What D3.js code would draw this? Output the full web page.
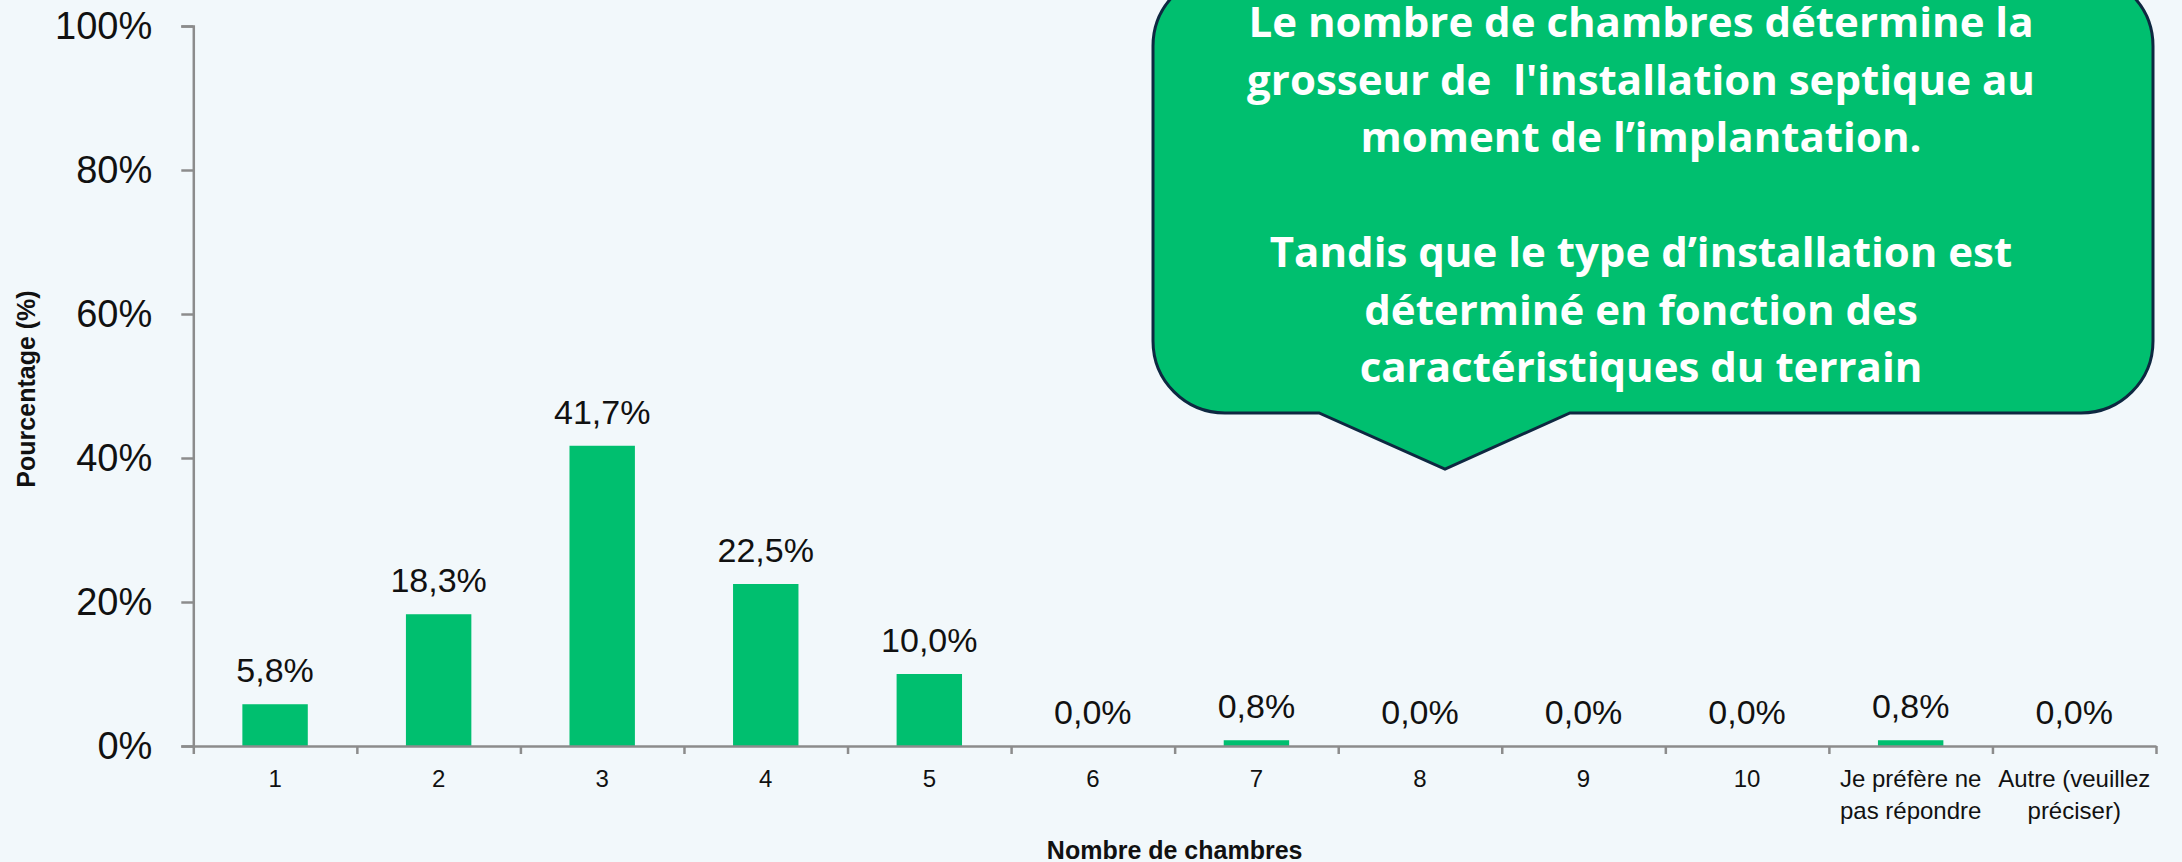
<!DOCTYPE html>
<html>
<head>
<meta charset="utf-8">
<script src="https://cdn.jsdelivr.net/npm/d3@7"></script>
<style>
  html, body { margin: 0; padding: 0; background: #f2f8fb; }
  svg { display: block; }
</style>
</head>
<body>
<div id="chart"></div>
<script>
// chart values
var categories = ["1", "2", "3", "4", "5", "6", "7", "8", "9", "10", "pref", "autre"];
var catLabels = [["1"], ["2"], ["3"], ["4"], ["5"], ["6"], ["7"], ["8"], ["9"], ["10"],
                 ["Je préfère ne", "pas répondre"], ["Autre (veuillez", "préciser)"]];
var values = [5.8, 18.3, 41.7, 22.5, 10.0, 0.0, 0.8, 0.0, 0.0, 0.0, 0.8, 0.0];
var yTickValues = [0, 20, 40, 60, 80, 100];
var calloutLines = [
  "Le nombre de chambres détermine la",
  "grosseur de  l'installation septique au",
  "moment de l’implantation.",
  "",
  "Tandis que le type d’installation est",
  "déterminé en fonction des",
  "caractéristiques du terrain"
];

var width = 2182;
var height = 862;
var plotLeft = 193.3, plotRight = 2156;
var plotTop = 26, plotBottom = 746;
var axisColor = "#8c8c8c";
var green = "#00bf6f";
var textColor = "#111";

var svg = d3.select("#chart")
  .append("svg")
    .attr("width", width)
    .attr("height", height)
    .style("background", "#f2f8fb");

var x = d3.scaleBand()
  .domain(categories)
  .range([plotLeft, plotRight])
  .paddingInner(0.6)
  .paddingOuter(0.3);

// boundaries between categories, for the tick marks
var xEdges = d3.scaleLinear()
  .domain([0, categories.length])
  .range([plotLeft, plotRight]);

var y = d3.scaleLinear()
  .domain([0, 100])
  .range([plotBottom, plotTop]);

// bars
svg.append("g").selectAll("rect")
  .data(values)
  .enter().append("rect")
    .attr("x", function(d, i) { return x(categories[i]); })
    .attr("width", x.bandwidth())
    .attr("y", function(d) { return y(d); })
    .attr("height", function(d) { return y(0) - y(d); })
    .attr("fill", green);

// y axis
var yAxis = svg.append("g")
  .attr("transform", "translate(" + plotLeft + ",0)")
  .call(d3.axisLeft(y).tickValues(yTickValues).tickSize(12).tickPadding(29)
    .tickFormat(function(d) { return d + "%"; }));
yAxis.select(".domain").attr("stroke", axisColor).attr("stroke-width", 2.5);
yAxis.selectAll(".tick line").attr("stroke", axisColor).attr("stroke-width", 2.5);
yAxis.selectAll(".tick text")
  .attr("font-family", "Liberation Sans, Arial, sans-serif")
  .attr("font-size", 38)
  .attr("fill", textColor);

// x axis
var xAxis = svg.append("g")
  .attr("transform", "translate(0," + plotBottom + ")")
  .call(d3.axisBottom(xEdges).tickValues(d3.range(categories.length + 1)).tickSize(8)
    .tickSizeOuter(0).tickFormat(""));
xAxis.select(".domain").attr("stroke", axisColor).attr("stroke-width", 2.5);
xAxis.selectAll(".tick line").attr("stroke", axisColor).attr("stroke-width", 2.5);

// category labels
var catG = svg.append("g")
  .attr("font-family", "Liberation Sans, Arial, sans-serif")
  .attr("font-size", 24)
  .attr("fill", textColor)
  .attr("text-anchor", "middle");
catLabels.forEach(function(lines, i) {
  var cx = x(categories[i]) + x.bandwidth() / 2;
  var t = catG.append("text")
    .attr("x", cx)
    .attr("y", 787);
  lines.forEach(function(l, j) {
    t.append("tspan")
      .attr("x", cx)
      .attr("dy", j === 0 ? 0 : 31.7)
      .text(l);
  });
});

// value labels
svg.append("g").selectAll("text")
  .data(values)
  .enter().append("text")
    .attr("x", function(d, i) { return x(categories[i]) + x.bandwidth() / 2; })
    .attr("y", function(d) { return y(d) - 22; })
    .attr("text-anchor", "middle")
    .attr("font-family", "Liberation Sans, Arial, sans-serif")
    .attr("font-size", 34)
    .attr("fill", textColor)
    .text(function(d) { return d.toFixed(1).replace(".", ",") + "%"; });

// axis titles
svg.append("text")
  .attr("x", (plotLeft + plotRight) / 2)
  .attr("y", 859)
  .attr("text-anchor", "middle")
  .attr("font-family", "Liberation Sans, Arial, sans-serif")
  .attr("font-weight", "bold")
  .attr("font-size", 25)
  .attr("fill", textColor)
  .text("Nombre de chambres");

svg.append("text")
  .attr("transform", "translate(35," + ((plotTop + plotBottom) / 2 + 3) + ") rotate(-90)")
  .attr("text-anchor", "middle")
  .attr("font-family", "Liberation Sans, Arial, sans-serif")
  .attr("font-weight", "bold")
  .attr("font-size", 25)
  .attr("fill", textColor)
  .text("Pourcentage (%)");

// callout bubble
var bx0 = 1153, bx1 = 2153, by0 = -26, by1 = 413, r = 72;
var p = d3.path();
p.moveTo(bx0 + r, by0);
p.lineTo(bx1 - r, by0);
p.arcTo(bx1, by0, bx1, by0 + r, r);
p.lineTo(bx1, by1 - r);
p.arcTo(bx1, by1, bx1 - r, by1, r);
p.lineTo(1570, by1);
p.lineTo(1445, 469);
p.lineTo(1319, by1);
p.lineTo(bx0 + r, by1);
p.arcTo(bx0, by1, bx0, by1 - r, r);
p.lineTo(bx0, by0 + r);
p.arcTo(bx0, by0, bx0 + r, by0, r);
p.closePath();

svg.append("path")
  .attr("d", p.toString())
  .attr("fill", green)
  .attr("stroke", "#0e2841")
  .attr("stroke-width", 3);

var callout = svg.append("text")
  .attr("text-anchor", "middle")
  .attr("font-family", "Open Sans, sans-serif")
  .attr("font-weight", "bold")
  .attr("font-size", 42)
  .attr("fill", "#fff")
  .attr("xml:space", "preserve")
  .style("white-space", "pre")
  .style("font-variant-ligatures", "none");
calloutLines.forEach(function(l, i) {
  callout.append("tspan")
    .attr("x", 1641)
    .attr("y", 37 + i * 57.5)
    .text(l);
});
</script>
</body>
</html>
